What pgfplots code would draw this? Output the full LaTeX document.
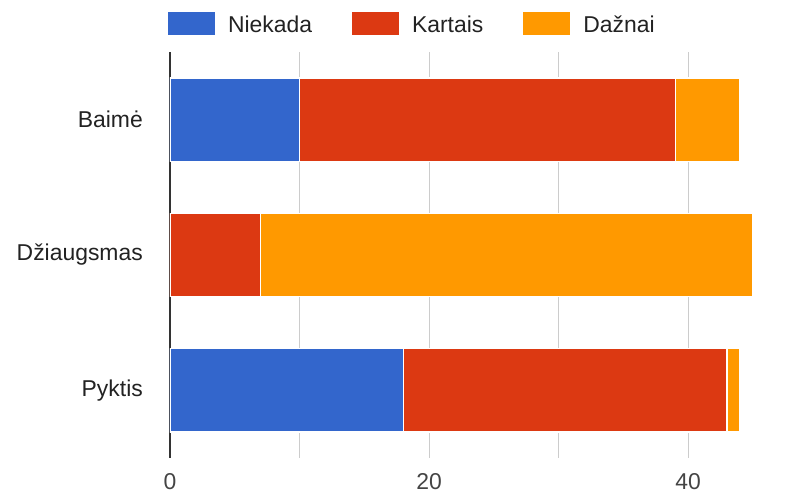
\documentclass[border=0pt]{standalone}
\usepackage{pgfplots}
\pgfplotsset{compat=1.18}
\usepackage{fontspec}
\setmainfont{Liberation Sans}
\definecolor{gblue}{HTML}{3366CC}
\definecolor{gred}{HTML}{DC3912}
\definecolor{gorange}{HTML}{FF9900}
\definecolor{gtext}{HTML}{222222}
\definecolor{gtick}{HTML}{444444}
\definecolor{ggrid}{HTML}{CCCCCC}
\definecolor{gaxis}{HTML}{333333}
\begin{document}
\begin{tikzpicture}
\useasboundingbox (-170bp,-39bp) rectangle (639bp,458bp);
\begin{axis}[
  at={(0,0)}, anchor=south west,
  scale only axis, width=583bp, height=406bp,
  xbar stacked, bar width=0.615,
  xmin=0, xmax=45, ymin=-0.5, ymax=2.5,
  y dir=reverse,
  ytick={0,1,2}, yticklabels={Baimė,Džiaugsmas,Pyktis},
  xtick={20,40}, minor xtick={10,30},
  extra x ticks={0}, extra x tick labels={0},
  extra x tick style={major grid style={draw=gaxis, line width=1.2bp}},
  xmajorgrids, xminorgrids,
  major grid style={draw=ggrid, line width=0.8bp},
  minor grid style={draw=ggrid, line width=0.8bp},
  major tick length=0pt, minor tick length=0pt,
  axis line style={draw=none},
  font=\fontsize{23}{27}\selectfont,
  yticklabel style={text=gtext, inner sep=0pt, xshift=-27bp},
  xticklabel style={text=gtick, inner sep=0pt, anchor=north, yshift=-15bp},
  /pgf/number format/assume math mode=true,
  legend columns=3,
  legend style={draw=none, fill=none, at={(0.414,1.0695)}, anchor=center,
    inner sep=0pt, font=\fontsize{23}{27}\selectfont, text=gtext,
    nodes={inner sep=0pt},
    /tikz/every odd column/.append style={column sep=13bp},
    /tikz/every even column/.append style={column sep=40bp}},
  legend image code/.code={\fill[#1,draw=none] (0bp,-10.75bp) rectangle (47bp,12.25bp);},
]
\addplot[fill=gblue, draw=white, line width=1.2bp] coordinates {(10,0) (0,1) (18,2)};
\addplot[fill=gred, draw=white, line width=1.2bp] coordinates {(29,0) (7,1) (25,2)};
\addplot[fill=gorange, draw=white, line width=1.2bp] coordinates {(5,0) (38,1) (1,2)};
\legend{Niekada,Kartais,Dažnai}
\end{axis}
\end{tikzpicture}
\end{document}
